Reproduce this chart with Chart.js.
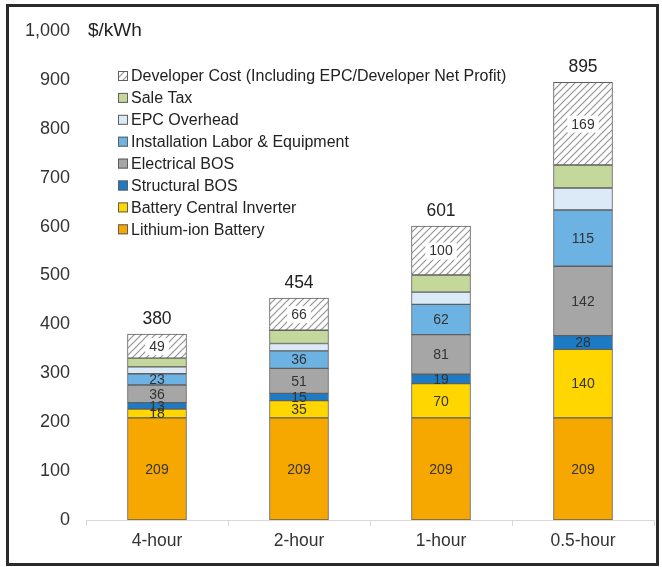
<!DOCTYPE html>
<html>
<head>
<meta charset="utf-8">
<script src="https://cdn.jsdelivr.net/npm/chart.js@4.4.1/dist/chart.umd.min.js"></script>
<style>
  html, body { margin: 0; padding: 0; background: #fff; }
  #wrap { position: relative; width: 662px; height: 567px; }
  #chart { position: absolute; left: 0; top: 0; }
  #frame {
    position: absolute; left: 6px; top: 4px; width: 653px; height: 562px;
    box-sizing: border-box; border: 3px solid #2b2b2b; pointer-events: none;
  }
</style>
</head>
<body>
<div id="wrap">
  <canvas id="chart" width="662" height="567"></canvas>
  <div id="frame"></div>
</div>
<script>
// Storage system cost breakdown, $/kWh, by duration
const categories = ['4-hour', '2-hour', '1-hour', '0.5-hour'];
const lithiumBattery   = [209, 209, 209, 209];
const centralInverter  = [18, 35, 70, 140];
const structuralBOS    = [13, 15, 19, 28];
const electricalBOS    = [36, 51, 81, 142];
const installation     = [23, 36, 62, 115];
const epcOverhead      = [14, 15, 25, 45];
const saleTax          = [18, 27, 35, 47];
const developerCost    = [49, 66, 100, 169];
const yTicks = [0, 100, 200, 300, 400, 500, 600, 700, 800, 900, 1000];

const FONT = '"Liberation Sans", Arial, sans-serif';
const TEXT = '#333333';

// diagonal hatch fill for the developer cost segment
function makeHatch() {
  const c = document.createElement('canvas');
  c.width = 7; c.height = 7;
  const g = c.getContext('2d');
  g.fillStyle = '#ffffff';
  g.fillRect(0, 0, 7, 7);
  g.strokeStyle = '#959595';
  g.lineWidth = 1.2;
  g.beginPath();
  g.moveTo(-1, 8); g.lineTo(8, -1);
  g.moveTo(-1, 1); g.lineTo(1, -1);
  g.moveTo(6, 8); g.lineTo(8, 6);
  g.stroke();
  return g.createPattern(c, 'repeat');
}
const hatch = makeHatch();

function series(label, data, color, showValues) {
  return {
    label, data,
    backgroundColor: color,
    borderColor: '#5f5f5f',
    borderWidth: 1,
    borderSkipped: false,
    showValues
  };
}

const datasets = [
  series('Lithium-ion Battery', lithiumBattery, '#F6A800', true),
  series('Battery Central Inverter', centralInverter, '#FFD600', true),
  series('Structural BOS', structuralBOS, '#1C7BC4', true),
  series('Electrical BOS', electricalBOS, '#A6A6A6', true),
  series('Installation Labor & Equipment', installation, '#6CB2E2', true),
  series('EPC Overhead', epcOverhead, '#DCEAF7', false),
  series('Sale Tax', saleTax, '#C4D89B', false),
  series('Developer Cost (Including EPC/Developer Net Profit)', developerCost, hatch, true)
];

// segment values, totals, unit caption and the in-plot legend
const annotate = {
  id: 'annotate',
  afterDatasetsDraw(chart) {
    const ctx = chart.ctx;
    const area = chart.chartArea;
    const y = chart.scales.y;
    ctx.save();

    // segment values
    ctx.font = '14px ' + FONT;
    ctx.textAlign = 'center';
    ctx.textBaseline = 'middle';
    chart.data.datasets.forEach((ds, di) => {
      if (!ds.showValues) return;
      const meta = chart.getDatasetMeta(di);
      meta.data.forEach((bar, i) => {
        const cy = (bar.y + bar.base) / 2 + 1;
        const txt = String(ds.data[i]);
        if (ds.backgroundColor === hatch) {
          const w = ctx.measureText(txt).width + 8;
          ctx.fillStyle = '#ffffff';
          ctx.fillRect(bar.x - w / 2, cy - 9, w, 17);
        }
        ctx.fillStyle = TEXT;
        ctx.fillText(txt, bar.x, cy);
      });
    });

    // totals above each stack
    ctx.font = '17.5px ' + FONT;
    ctx.fillStyle = '#222222';
    ctx.textBaseline = 'alphabetic';
    const top = chart.getDatasetMeta(chart.data.datasets.length - 1);
    categories.forEach((c, i) => {
      const total = chart.data.datasets.reduce((s, ds) => s + ds.data[i], 0);
      ctx.fillText(String(total), top.data[i].x, top.data[i].y - 10);
    });

    // unit caption next to the top tick
    ctx.font = '19px ' + FONT;
    ctx.textAlign = 'left';
    ctx.textBaseline = 'middle';
    ctx.fillText('$/kWh', area.left + 2, y.getPixelForValue(1000));

    // legend, top entry = top of stack
    ctx.font = '16px ' + FONT;
    const lx = area.left + 32;
    let ly = 76;
    const list = chart.data.datasets.slice().reverse();
    list.forEach(ds => {
      ctx.fillStyle = ds.backgroundColor;
      ctx.fillRect(lx, ly - 5, 10, 10);
      ctx.strokeStyle = '#5f5f5f';
      ctx.lineWidth = 1;
      ctx.strokeRect(lx + 0.5, ly - 4.5, 9, 9);
      ctx.fillStyle = '#222222';
      ctx.fillText(ds.label, lx + 13, ly + 1);
      ly += 21.9;
    });
    ctx.restore();
  }
};

new Chart(document.getElementById('chart'), {
  type: 'bar',
  data: { labels: categories, datasets },
  options: {
    responsive: false,
    animation: false,
    layout: { padding: { top: 31, right: 8, bottom: 0, left: 0 } },
    plugins: { legend: { display: false }, tooltip: { enabled: false } },
    datasets: { bar: { barThickness: 59 } },
    scales: {
      x: {
        stacked: true,
        grid: {
          display: true, drawOnChartArea: false, drawTicks: true,
          tickLength: 6, color: '#d9d9d9', offset: true
        },
        border: { display: true, color: '#d9d9d9', width: 1 },
        ticks: { color: TEXT, font: { family: FONT, size: 17.5 }, padding: 5 },
        afterFit(scale) { scale.height = 47; }
      },
      y: {
        stacked: true,
        min: 0, max: 1000,
        afterBuildTicks(scale) { scale.ticks = yTicks.map(v => ({ value: v })); },
        grid: { display: false, drawTicks: false },
        border: { display: false },
        ticks: {
          color: TEXT, font: { family: FONT, size: 18 }, padding: 16,
          callback: v => v.toLocaleString('en-US')
        },
        afterFit(scale) { scale.width = 86; }
      }
    }
  },
  plugins: [annotate]
});
</script>
</body>
</html>
